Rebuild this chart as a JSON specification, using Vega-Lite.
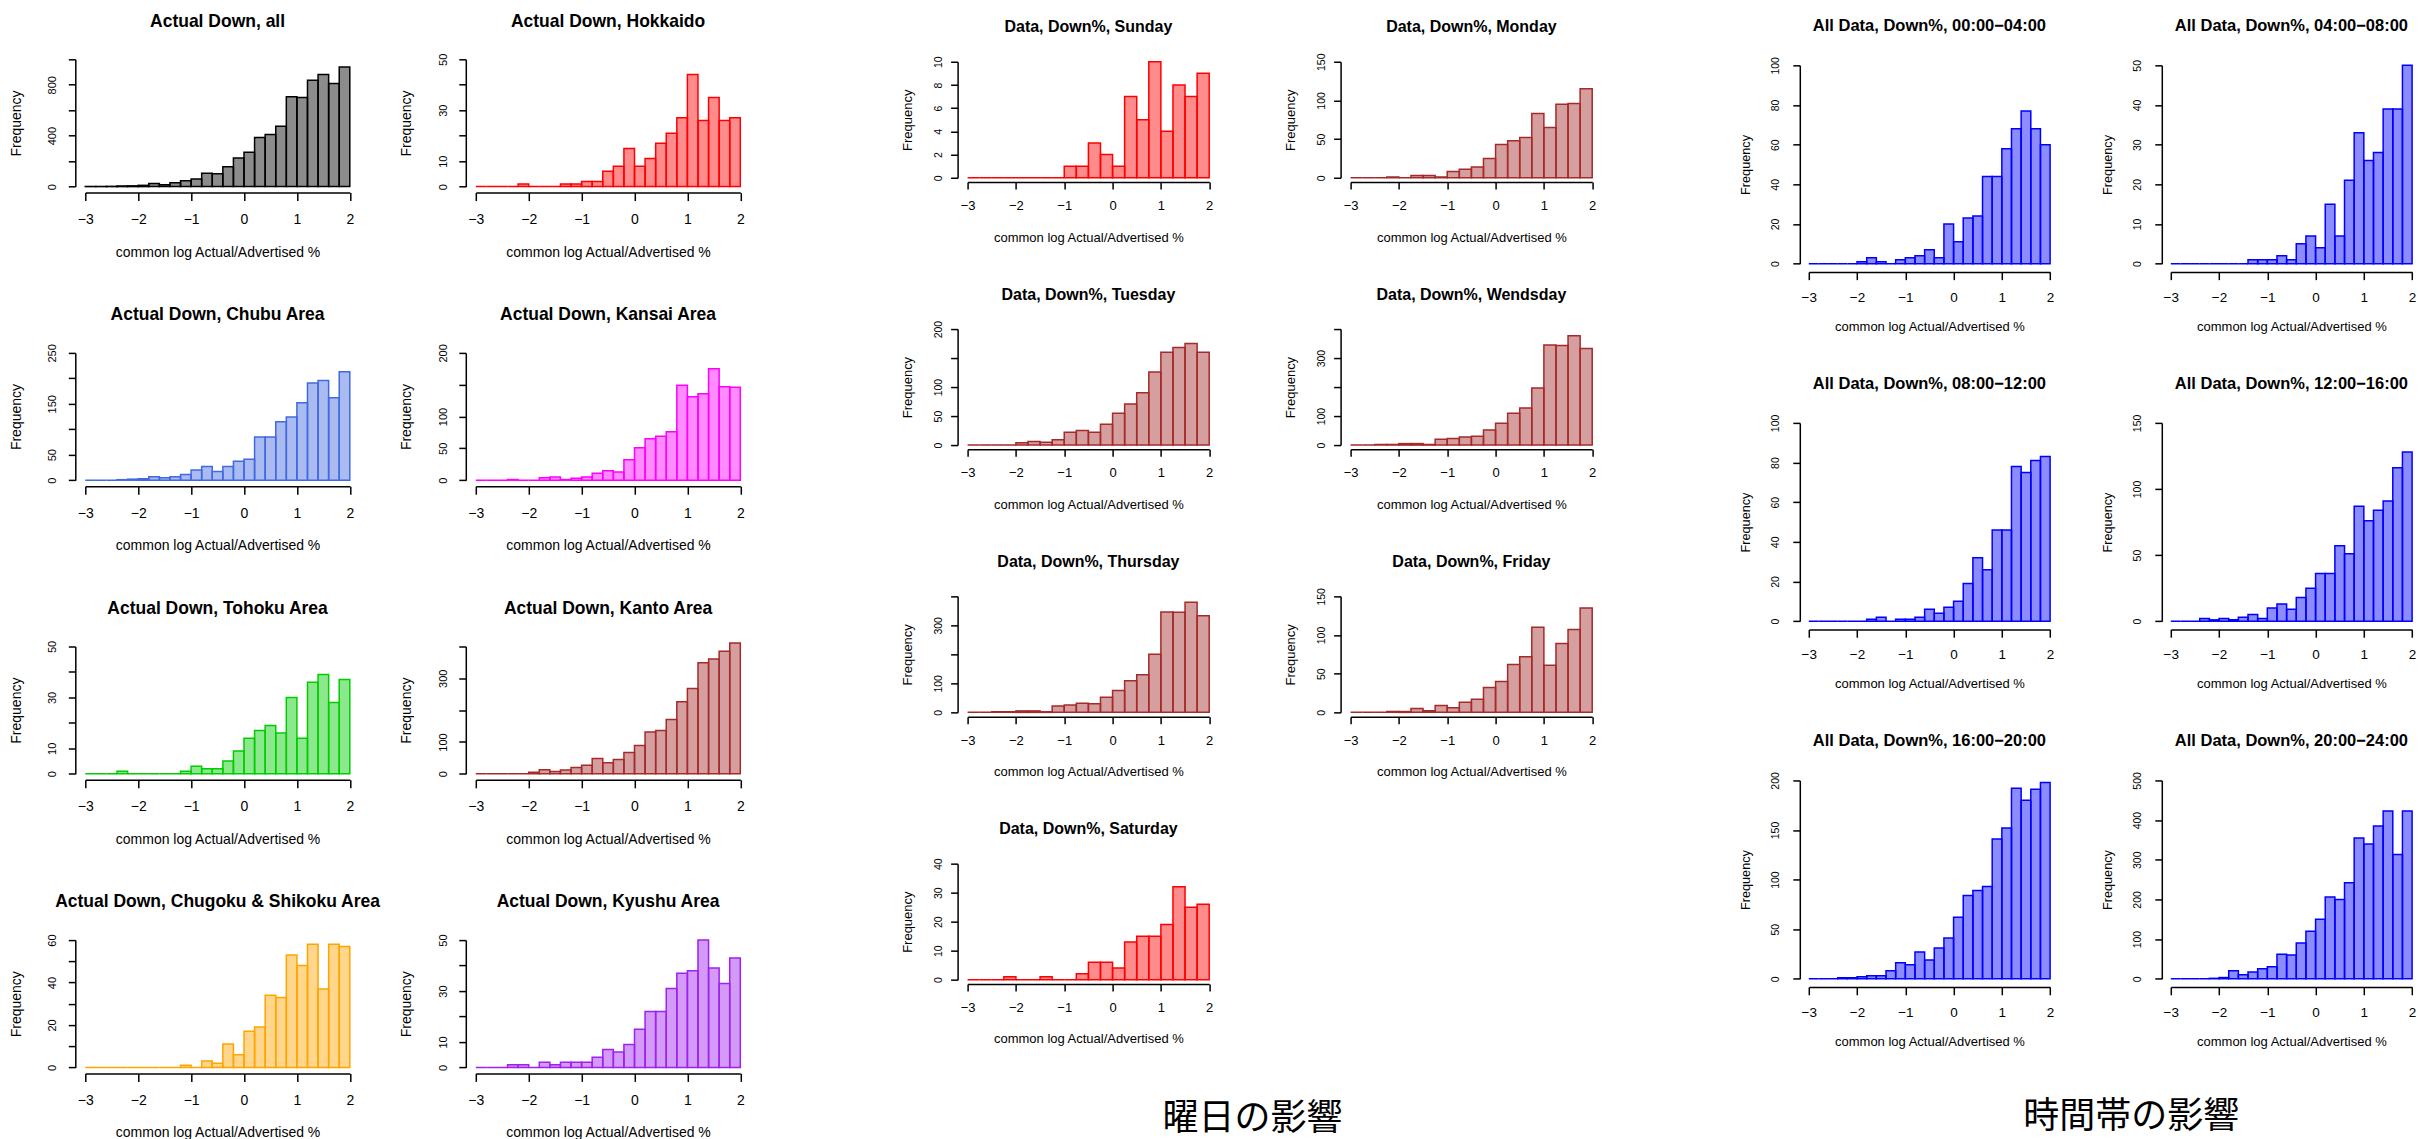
{
"$schema": "https://vega.github.io/schema/vega-lite/v6.json",
"background": "white",
"padding": {"left": 9.3, "top": 12.3, "right": 0, "bottom": 0},
"config": {
  "view": {"stroke": null},
  "font": "Liberation Sans",
  "bar": {"fillOpacity": 0.45, "strokeWidth": 1.5},
  "title": {"font": "Liberation Sans", "fontWeight": "bold", "color": "#000000", "anchor": "middle", "frame": "group"},
  "axis": {"grid": false, "domainColor": "#000000", "domainWidth": 1.5, "tickColor": "#000000", "tickWidth": 1.5, "labelColor": "#000000", "titleColor": "#000000", "labelFont": "Liberation Sans", "titleFont": "Liberation Sans", "titleFontWeight": "normal", "labelFlush": false, "labelOverlap": false, "titleBaseline": "middle"},
  "axisX": {"labelAngle": 0},
  "axisY": {"labelAngle": 270, "labelAlign": "center", "labelBaseline": "bottom", "titleAngle": 270, "titleAlign": "center"}
},
"datasets": {
  "all": [{"x0":-3,"x1":-2.8,"count":1},{"x0":-2.8,"x1":-2.6,"count":1},{"x0":-2.6,"x1":-2.4,"count":2},{"x0":-2.4,"x1":-2.2,"count":5},{"x0":-2.2,"x1":-2,"count":6},{"x0":-2,"x1":-1.8,"count":10},{"x0":-1.8,"x1":-1.6,"count":25},{"x0":-1.6,"x1":-1.4,"count":15},{"x0":-1.4,"x1":-1.2,"count":30},{"x0":-1.2,"x1":-1,"count":45},{"x0":-1,"x1":-0.8,"count":60},{"x0":-0.8,"x1":-0.6,"count":105},{"x0":-0.6,"x1":-0.4,"count":100},{"x0":-0.4,"x1":-0.2,"count":155},{"x0":-0.2,"x1":0,"count":225},{"x0":0,"x1":0.2,"count":270},{"x0":0.2,"x1":0.4,"count":385},{"x0":0.4,"x1":0.6,"count":410},{"x0":0.6,"x1":0.8,"count":475},{"x0":0.8,"x1":1,"count":705},{"x0":1,"x1":1.2,"count":700},{"x0":1.2,"x1":1.4,"count":835},{"x0":1.4,"x1":1.6,"count":880},{"x0":1.6,"x1":1.8,"count":810},{"x0":1.8,"x1":2,"count":940}],
  "hokkaido": [{"x0":-3,"x1":-2.8,"count":0},{"x0":-2.8,"x1":-2.6,"count":0},{"x0":-2.6,"x1":-2.4,"count":0},{"x0":-2.4,"x1":-2.2,"count":0},{"x0":-2.2,"x1":-2,"count":1},{"x0":-2,"x1":-1.8,"count":0},{"x0":-1.8,"x1":-1.6,"count":0},{"x0":-1.6,"x1":-1.4,"count":0},{"x0":-1.4,"x1":-1.2,"count":1},{"x0":-1.2,"x1":-1,"count":1},{"x0":-1,"x1":-0.8,"count":2},{"x0":-0.8,"x1":-0.6,"count":2},{"x0":-0.6,"x1":-0.4,"count":6},{"x0":-0.4,"x1":-0.2,"count":8},{"x0":-0.2,"x1":0,"count":15},{"x0":0,"x1":0.2,"count":8},{"x0":0.2,"x1":0.4,"count":11},{"x0":0.4,"x1":0.6,"count":17},{"x0":0.6,"x1":0.8,"count":21},{"x0":0.8,"x1":1,"count":27},{"x0":1,"x1":1.2,"count":44},{"x0":1.2,"x1":1.4,"count":26},{"x0":1.4,"x1":1.6,"count":35},{"x0":1.6,"x1":1.8,"count":26},{"x0":1.8,"x1":2,"count":27}],
  "chubu": [{"x0":-3,"x1":-2.8,"count":0},{"x0":-2.8,"x1":-2.6,"count":0},{"x0":-2.6,"x1":-2.4,"count":0},{"x0":-2.4,"x1":-2.2,"count":1},{"x0":-2.2,"x1":-2,"count":2},{"x0":-2,"x1":-1.8,"count":3},{"x0":-1.8,"x1":-1.6,"count":7},{"x0":-1.6,"x1":-1.4,"count":5},{"x0":-1.4,"x1":-1.2,"count":7},{"x0":-1.2,"x1":-1,"count":11},{"x0":-1,"x1":-0.8,"count":20},{"x0":-0.8,"x1":-0.6,"count":27},{"x0":-0.6,"x1":-0.4,"count":17},{"x0":-0.4,"x1":-0.2,"count":27},{"x0":-0.2,"x1":0,"count":37},{"x0":0,"x1":0.2,"count":41},{"x0":0.2,"x1":0.4,"count":85},{"x0":0.4,"x1":0.6,"count":85},{"x0":0.6,"x1":0.8,"count":115},{"x0":0.8,"x1":1,"count":124},{"x0":1,"x1":1.2,"count":152},{"x0":1.2,"x1":1.4,"count":191},{"x0":1.4,"x1":1.6,"count":196},{"x0":1.6,"x1":1.8,"count":162},{"x0":1.8,"x1":2,"count":213}],
  "kansai": [{"x0":-3,"x1":-2.8,"count":0},{"x0":-2.8,"x1":-2.6,"count":0},{"x0":-2.6,"x1":-2.4,"count":0},{"x0":-2.4,"x1":-2.2,"count":1},{"x0":-2.2,"x1":-2,"count":0},{"x0":-2,"x1":-1.8,"count":0},{"x0":-1.8,"x1":-1.6,"count":4},{"x0":-1.6,"x1":-1.4,"count":5},{"x0":-1.4,"x1":-1.2,"count":1},{"x0":-1.2,"x1":-1,"count":3},{"x0":-1,"x1":-0.8,"count":5},{"x0":-0.8,"x1":-0.6,"count":11},{"x0":-0.6,"x1":-0.4,"count":15},{"x0":-0.4,"x1":-0.2,"count":13},{"x0":-0.2,"x1":0,"count":32},{"x0":0,"x1":0.2,"count":51},{"x0":0.2,"x1":0.4,"count":65},{"x0":0.4,"x1":0.6,"count":69},{"x0":0.6,"x1":0.8,"count":76},{"x0":0.8,"x1":1,"count":149},{"x0":1,"x1":1.2,"count":131},{"x0":1.2,"x1":1.4,"count":136},{"x0":1.4,"x1":1.6,"count":175},{"x0":1.6,"x1":1.8,"count":147},{"x0":1.8,"x1":2,"count":146}],
  "tohoku": [{"x0":-3,"x1":-2.8,"count":0},{"x0":-2.8,"x1":-2.6,"count":0},{"x0":-2.6,"x1":-2.4,"count":0},{"x0":-2.4,"x1":-2.2,"count":1},{"x0":-2.2,"x1":-2,"count":0},{"x0":-2,"x1":-1.8,"count":0},{"x0":-1.8,"x1":-1.6,"count":0},{"x0":-1.6,"x1":-1.4,"count":0},{"x0":-1.4,"x1":-1.2,"count":0},{"x0":-1.2,"x1":-1,"count":1},{"x0":-1,"x1":-0.8,"count":3},{"x0":-0.8,"x1":-0.6,"count":2},{"x0":-0.6,"x1":-0.4,"count":2},{"x0":-0.4,"x1":-0.2,"count":5},{"x0":-0.2,"x1":0,"count":9},{"x0":0,"x1":0.2,"count":14},{"x0":0.2,"x1":0.4,"count":17},{"x0":0.4,"x1":0.6,"count":19},{"x0":0.6,"x1":0.8,"count":16},{"x0":0.8,"x1":1,"count":30},{"x0":1,"x1":1.2,"count":14},{"x0":1.2,"x1":1.4,"count":36},{"x0":1.4,"x1":1.6,"count":39},{"x0":1.6,"x1":1.8,"count":28},{"x0":1.8,"x1":2,"count":37}],
  "kanto": [{"x0":-3,"x1":-2.8,"count":0},{"x0":-2.8,"x1":-2.6,"count":0},{"x0":-2.6,"x1":-2.4,"count":0},{"x0":-2.4,"x1":-2.2,"count":0},{"x0":-2.2,"x1":-2,"count":0},{"x0":-2,"x1":-1.8,"count":5},{"x0":-1.8,"x1":-1.6,"count":13},{"x0":-1.6,"x1":-1.4,"count":7},{"x0":-1.4,"x1":-1.2,"count":12},{"x0":-1.2,"x1":-1,"count":20},{"x0":-1,"x1":-0.8,"count":27},{"x0":-0.8,"x1":-0.6,"count":48},{"x0":-0.6,"x1":-0.4,"count":35},{"x0":-0.4,"x1":-0.2,"count":45},{"x0":-0.2,"x1":0,"count":67},{"x0":0,"x1":0.2,"count":89},{"x0":0.2,"x1":0.4,"count":131},{"x0":0.4,"x1":0.6,"count":136},{"x0":0.6,"x1":0.8,"count":171},{"x0":0.8,"x1":1,"count":226},{"x0":1,"x1":1.2,"count":268},{"x0":1.2,"x1":1.4,"count":349},{"x0":1.4,"x1":1.6,"count":361},{"x0":1.6,"x1":1.8,"count":385},{"x0":1.8,"x1":2,"count":411}],
  "chugoku": [{"x0":-3,"x1":-2.8,"count":0},{"x0":-2.8,"x1":-2.6,"count":0},{"x0":-2.6,"x1":-2.4,"count":0},{"x0":-2.4,"x1":-2.2,"count":0},{"x0":-2.2,"x1":-2,"count":0},{"x0":-2,"x1":-1.8,"count":0},{"x0":-1.8,"x1":-1.6,"count":0},{"x0":-1.6,"x1":-1.4,"count":0},{"x0":-1.4,"x1":-1.2,"count":0},{"x0":-1.2,"x1":-1,"count":1},{"x0":-1,"x1":-0.8,"count":0},{"x0":-0.8,"x1":-0.6,"count":3},{"x0":-0.6,"x1":-0.4,"count":2},{"x0":-0.4,"x1":-0.2,"count":11},{"x0":-0.2,"x1":0,"count":6},{"x0":0,"x1":0.2,"count":17},{"x0":0.2,"x1":0.4,"count":19},{"x0":0.4,"x1":0.6,"count":34},{"x0":0.6,"x1":0.8,"count":33},{"x0":0.8,"x1":1,"count":53},{"x0":1,"x1":1.2,"count":48},{"x0":1.2,"x1":1.4,"count":58},{"x0":1.4,"x1":1.6,"count":37},{"x0":1.6,"x1":1.8,"count":58},{"x0":1.8,"x1":2,"count":57}],
  "kyushu": [{"x0":-3,"x1":-2.8,"count":0},{"x0":-2.8,"x1":-2.6,"count":0},{"x0":-2.6,"x1":-2.4,"count":0},{"x0":-2.4,"x1":-2.2,"count":1},{"x0":-2.2,"x1":-2,"count":1},{"x0":-2,"x1":-1.8,"count":0},{"x0":-1.8,"x1":-1.6,"count":2},{"x0":-1.6,"x1":-1.4,"count":1},{"x0":-1.4,"x1":-1.2,"count":2},{"x0":-1.2,"x1":-1,"count":2},{"x0":-1,"x1":-0.8,"count":2},{"x0":-0.8,"x1":-0.6,"count":4},{"x0":-0.6,"x1":-0.4,"count":7},{"x0":-0.4,"x1":-0.2,"count":6},{"x0":-0.2,"x1":0,"count":9},{"x0":0,"x1":0.2,"count":15},{"x0":0.2,"x1":0.4,"count":22},{"x0":0.4,"x1":0.6,"count":22},{"x0":0.6,"x1":0.8,"count":31},{"x0":0.8,"x1":1,"count":37},{"x0":1,"x1":1.2,"count":38},{"x0":1.2,"x1":1.4,"count":50},{"x0":1.4,"x1":1.6,"count":39},{"x0":1.6,"x1":1.8,"count":33},{"x0":1.8,"x1":2,"count":43}],
  "sun": [{"x0":-3,"x1":-2.75,"count":0},{"x0":-2.75,"x1":-2.5,"count":0},{"x0":-2.5,"x1":-2.25,"count":0},{"x0":-2.25,"x1":-2,"count":0},{"x0":-2,"x1":-1.75,"count":0},{"x0":-1.75,"x1":-1.5,"count":0},{"x0":-1.5,"x1":-1.25,"count":0},{"x0":-1.25,"x1":-1,"count":0},{"x0":-1,"x1":-0.75,"count":1},{"x0":-0.75,"x1":-0.5,"count":1},{"x0":-0.5,"x1":-0.25,"count":3},{"x0":-0.25,"x1":0,"count":2},{"x0":0,"x1":0.25,"count":1},{"x0":0.25,"x1":0.5,"count":7},{"x0":0.5,"x1":0.75,"count":5},{"x0":0.75,"x1":1,"count":10},{"x0":1,"x1":1.25,"count":4},{"x0":1.25,"x1":1.5,"count":8},{"x0":1.5,"x1":1.75,"count":7},{"x0":1.75,"x1":2,"count":9}],
  "mon": [{"x0":-3,"x1":-2.75,"count":0},{"x0":-2.75,"x1":-2.5,"count":0},{"x0":-2.5,"x1":-2.25,"count":0},{"x0":-2.25,"x1":-2,"count":1},{"x0":-2,"x1":-1.75,"count":0},{"x0":-1.75,"x1":-1.5,"count":3},{"x0":-1.5,"x1":-1.25,"count":3},{"x0":-1.25,"x1":-1,"count":1},{"x0":-1,"x1":-0.75,"count":8},{"x0":-0.75,"x1":-0.5,"count":11},{"x0":-0.5,"x1":-0.25,"count":14},{"x0":-0.25,"x1":0,"count":25},{"x0":0,"x1":0.25,"count":43},{"x0":0.25,"x1":0.5,"count":48},{"x0":0.5,"x1":0.75,"count":52},{"x0":0.75,"x1":1,"count":83},{"x0":1,"x1":1.25,"count":65},{"x0":1.25,"x1":1.5,"count":95},{"x0":1.5,"x1":1.75,"count":96},{"x0":1.75,"x1":2,"count":115}],
  "tue": [{"x0":-3,"x1":-2.75,"count":0},{"x0":-2.75,"x1":-2.5,"count":0},{"x0":-2.5,"x1":-2.25,"count":0},{"x0":-2.25,"x1":-2,"count":0},{"x0":-2,"x1":-1.75,"count":4},{"x0":-1.75,"x1":-1.5,"count":6},{"x0":-1.5,"x1":-1.25,"count":5},{"x0":-1.25,"x1":-1,"count":9},{"x0":-1,"x1":-0.75,"count":22},{"x0":-0.75,"x1":-0.5,"count":25},{"x0":-0.5,"x1":-0.25,"count":22},{"x0":-0.25,"x1":0,"count":36},{"x0":0,"x1":0.25,"count":55},{"x0":0.25,"x1":0.5,"count":71},{"x0":0.5,"x1":0.75,"count":90},{"x0":0.75,"x1":1,"count":126},{"x0":1,"x1":1.25,"count":160},{"x0":1.25,"x1":1.5,"count":168},{"x0":1.5,"x1":1.75,"count":175},{"x0":1.75,"x1":2,"count":160}],
  "wed": [{"x0":-3,"x1":-2.75,"count":0},{"x0":-2.75,"x1":-2.5,"count":0},{"x0":-2.5,"x1":-2.25,"count":2},{"x0":-2.25,"x1":-2,"count":2},{"x0":-2,"x1":-1.75,"count":5},{"x0":-1.75,"x1":-1.5,"count":5},{"x0":-1.5,"x1":-1.25,"count":2},{"x0":-1.25,"x1":-1,"count":20},{"x0":-1,"x1":-0.75,"count":23},{"x0":-0.75,"x1":-0.5,"count":28},{"x0":-0.5,"x1":-0.25,"count":30},{"x0":-0.25,"x1":0,"count":52},{"x0":0,"x1":0.25,"count":75},{"x0":0.25,"x1":0.5,"count":110},{"x0":0.5,"x1":0.75,"count":128},{"x0":0.75,"x1":1,"count":197},{"x0":1,"x1":1.25,"count":345},{"x0":1.25,"x1":1.5,"count":343},{"x0":1.5,"x1":1.75,"count":377},{"x0":1.75,"x1":2,"count":333}],
  "thu": [{"x0":-3,"x1":-2.75,"count":0},{"x0":-2.75,"x1":-2.5,"count":0},{"x0":-2.5,"x1":-2.25,"count":2},{"x0":-2.25,"x1":-2,"count":2},{"x0":-2,"x1":-1.75,"count":5},{"x0":-1.75,"x1":-1.5,"count":5},{"x0":-1.5,"x1":-1.25,"count":2},{"x0":-1.25,"x1":-1,"count":22},{"x0":-1,"x1":-0.75,"count":25},{"x0":-0.75,"x1":-0.5,"count":31},{"x0":-0.5,"x1":-0.25,"count":30},{"x0":-0.25,"x1":0,"count":52},{"x0":0,"x1":0.25,"count":75},{"x0":0.25,"x1":0.5,"count":109},{"x0":0.5,"x1":0.75,"count":130},{"x0":0.75,"x1":1,"count":200},{"x0":1,"x1":1.25,"count":346},{"x0":1.25,"x1":1.5,"count":345},{"x0":1.5,"x1":1.75,"count":380},{"x0":1.75,"x1":2,"count":333}],
  "fri": [{"x0":-3,"x1":-2.75,"count":0},{"x0":-2.75,"x1":-2.5,"count":0},{"x0":-2.5,"x1":-2.25,"count":0},{"x0":-2.25,"x1":-2,"count":1},{"x0":-2,"x1":-1.75,"count":1},{"x0":-1.75,"x1":-1.5,"count":5},{"x0":-1.5,"x1":-1.25,"count":2},{"x0":-1.25,"x1":-1,"count":9},{"x0":-1,"x1":-0.75,"count":6},{"x0":-0.75,"x1":-0.5,"count":13},{"x0":-0.5,"x1":-0.25,"count":17},{"x0":-0.25,"x1":0,"count":32},{"x0":0,"x1":0.25,"count":40},{"x0":0.25,"x1":0.5,"count":62},{"x0":0.5,"x1":0.75,"count":72},{"x0":0.75,"x1":1,"count":110},{"x0":1,"x1":1.25,"count":61},{"x0":1.25,"x1":1.5,"count":89},{"x0":1.5,"x1":1.75,"count":107},{"x0":1.75,"x1":2,"count":135}],
  "sat": [{"x0":-3,"x1":-2.75,"count":0},{"x0":-2.75,"x1":-2.5,"count":0},{"x0":-2.5,"x1":-2.25,"count":0},{"x0":-2.25,"x1":-2,"count":1},{"x0":-2,"x1":-1.75,"count":0},{"x0":-1.75,"x1":-1.5,"count":0},{"x0":-1.5,"x1":-1.25,"count":1},{"x0":-1.25,"x1":-1,"count":0},{"x0":-1,"x1":-0.75,"count":0},{"x0":-0.75,"x1":-0.5,"count":2},{"x0":-0.5,"x1":-0.25,"count":6},{"x0":-0.25,"x1":0,"count":6},{"x0":0,"x1":0.25,"count":4},{"x0":0.25,"x1":0.5,"count":13},{"x0":0.5,"x1":0.75,"count":15},{"x0":0.75,"x1":1,"count":15},{"x0":1,"x1":1.25,"count":19},{"x0":1.25,"x1":1.5,"count":32},{"x0":1.5,"x1":1.75,"count":25},{"x0":1.75,"x1":2,"count":26}],
  "t00": [{"x0":-3,"x1":-2.8,"count":0},{"x0":-2.8,"x1":-2.6,"count":0},{"x0":-2.6,"x1":-2.4,"count":0},{"x0":-2.4,"x1":-2.2,"count":0},{"x0":-2.2,"x1":-2,"count":0},{"x0":-2,"x1":-1.8,"count":1},{"x0":-1.8,"x1":-1.6,"count":3},{"x0":-1.6,"x1":-1.4,"count":1},{"x0":-1.4,"x1":-1.2,"count":0},{"x0":-1.2,"x1":-1,"count":2},{"x0":-1,"x1":-0.8,"count":3},{"x0":-0.8,"x1":-0.6,"count":4},{"x0":-0.6,"x1":-0.4,"count":7},{"x0":-0.4,"x1":-0.2,"count":3},{"x0":-0.2,"x1":0,"count":20},{"x0":0,"x1":0.2,"count":11},{"x0":0.2,"x1":0.4,"count":23},{"x0":0.4,"x1":0.6,"count":24},{"x0":0.6,"x1":0.8,"count":44},{"x0":0.8,"x1":1,"count":44},{"x0":1,"x1":1.2,"count":58},{"x0":1.2,"x1":1.4,"count":68},{"x0":1.4,"x1":1.6,"count":77},{"x0":1.6,"x1":1.8,"count":68},{"x0":1.8,"x1":2,"count":60}],
  "t04": [{"x0":-3,"x1":-2.8,"count":0},{"x0":-2.8,"x1":-2.6,"count":0},{"x0":-2.6,"x1":-2.4,"count":0},{"x0":-2.4,"x1":-2.2,"count":0},{"x0":-2.2,"x1":-2,"count":0},{"x0":-2,"x1":-1.8,"count":0},{"x0":-1.8,"x1":-1.6,"count":0},{"x0":-1.6,"x1":-1.4,"count":0},{"x0":-1.4,"x1":-1.2,"count":1},{"x0":-1.2,"x1":-1,"count":1},{"x0":-1,"x1":-0.8,"count":1},{"x0":-0.8,"x1":-0.6,"count":2},{"x0":-0.6,"x1":-0.4,"count":1},{"x0":-0.4,"x1":-0.2,"count":5},{"x0":-0.2,"x1":0,"count":7},{"x0":0,"x1":0.2,"count":4},{"x0":0.2,"x1":0.4,"count":15},{"x0":0.4,"x1":0.6,"count":7},{"x0":0.6,"x1":0.8,"count":21},{"x0":0.8,"x1":1,"count":33},{"x0":1,"x1":1.2,"count":26},{"x0":1.2,"x1":1.4,"count":28},{"x0":1.4,"x1":1.6,"count":39},{"x0":1.6,"x1":1.8,"count":39},{"x0":1.8,"x1":2,"count":50}],
  "t08": [{"x0":-3,"x1":-2.8,"count":0},{"x0":-2.8,"x1":-2.6,"count":0},{"x0":-2.6,"x1":-2.4,"count":0},{"x0":-2.4,"x1":-2.2,"count":0},{"x0":-2.2,"x1":-2,"count":0},{"x0":-2,"x1":-1.8,"count":0},{"x0":-1.8,"x1":-1.6,"count":1},{"x0":-1.6,"x1":-1.4,"count":2},{"x0":-1.4,"x1":-1.2,"count":0},{"x0":-1.2,"x1":-1,"count":1},{"x0":-1,"x1":-0.8,"count":1},{"x0":-0.8,"x1":-0.6,"count":2},{"x0":-0.6,"x1":-0.4,"count":6},{"x0":-0.4,"x1":-0.2,"count":4},{"x0":-0.2,"x1":0,"count":7},{"x0":0,"x1":0.2,"count":10},{"x0":0.2,"x1":0.4,"count":19},{"x0":0.4,"x1":0.6,"count":32},{"x0":0.6,"x1":0.8,"count":26},{"x0":0.8,"x1":1,"count":46},{"x0":1,"x1":1.2,"count":46},{"x0":1.2,"x1":1.4,"count":78},{"x0":1.4,"x1":1.6,"count":75},{"x0":1.6,"x1":1.8,"count":81},{"x0":1.8,"x1":2,"count":83}],
  "t12": [{"x0":-3,"x1":-2.8,"count":0},{"x0":-2.8,"x1":-2.6,"count":0},{"x0":-2.6,"x1":-2.4,"count":0},{"x0":-2.4,"x1":-2.2,"count":2},{"x0":-2.2,"x1":-2,"count":1},{"x0":-2,"x1":-1.8,"count":2},{"x0":-1.8,"x1":-1.6,"count":1},{"x0":-1.6,"x1":-1.4,"count":3},{"x0":-1.4,"x1":-1.2,"count":5},{"x0":-1.2,"x1":-1,"count":2},{"x0":-1,"x1":-0.8,"count":10},{"x0":-0.8,"x1":-0.6,"count":13},{"x0":-0.6,"x1":-0.4,"count":9},{"x0":-0.4,"x1":-0.2,"count":18},{"x0":-0.2,"x1":0,"count":25},{"x0":0,"x1":0.2,"count":36},{"x0":0.2,"x1":0.4,"count":36},{"x0":0.4,"x1":0.6,"count":57},{"x0":0.6,"x1":0.8,"count":51},{"x0":0.8,"x1":1,"count":87},{"x0":1,"x1":1.2,"count":76},{"x0":1.2,"x1":1.4,"count":84},{"x0":1.4,"x1":1.6,"count":91},{"x0":1.6,"x1":1.8,"count":116},{"x0":1.8,"x1":2,"count":128}],
  "t16": [{"x0":-3,"x1":-2.8,"count":0},{"x0":-2.8,"x1":-2.6,"count":0},{"x0":-2.6,"x1":-2.4,"count":0},{"x0":-2.4,"x1":-2.2,"count":1},{"x0":-2.2,"x1":-2,"count":1},{"x0":-2,"x1":-1.8,"count":2},{"x0":-1.8,"x1":-1.6,"count":3},{"x0":-1.6,"x1":-1.4,"count":3},{"x0":-1.4,"x1":-1.2,"count":8},{"x0":-1.2,"x1":-1,"count":16},{"x0":-1,"x1":-0.8,"count":14},{"x0":-0.8,"x1":-0.6,"count":27},{"x0":-0.6,"x1":-0.4,"count":19},{"x0":-0.4,"x1":-0.2,"count":31},{"x0":-0.2,"x1":0,"count":41},{"x0":0,"x1":0.2,"count":62},{"x0":0.2,"x1":0.4,"count":84},{"x0":0.4,"x1":0.6,"count":89},{"x0":0.6,"x1":0.8,"count":93},{"x0":0.8,"x1":1,"count":141},{"x0":1,"x1":1.2,"count":152},{"x0":1.2,"x1":1.4,"count":192},{"x0":1.4,"x1":1.6,"count":180},{"x0":1.6,"x1":1.8,"count":191},{"x0":1.8,"x1":2,"count":198}],
  "t20": [{"x0":-3,"x1":-2.8,"count":0},{"x0":-2.8,"x1":-2.6,"count":0},{"x0":-2.6,"x1":-2.4,"count":0},{"x0":-2.4,"x1":-2.2,"count":0},{"x0":-2.2,"x1":-2,"count":1},{"x0":-2,"x1":-1.8,"count":3},{"x0":-1.8,"x1":-1.6,"count":20},{"x0":-1.6,"x1":-1.4,"count":10},{"x0":-1.4,"x1":-1.2,"count":17},{"x0":-1.2,"x1":-1,"count":25},{"x0":-1,"x1":-0.8,"count":30},{"x0":-0.8,"x1":-0.6,"count":62},{"x0":-0.6,"x1":-0.4,"count":60},{"x0":-0.4,"x1":-0.2,"count":90},{"x0":-0.2,"x1":0,"count":120},{"x0":0,"x1":0.2,"count":150},{"x0":0.2,"x1":0.4,"count":206},{"x0":0.4,"x1":0.6,"count":200},{"x0":0.6,"x1":0.8,"count":242},{"x0":0.8,"x1":1,"count":355},{"x0":1,"x1":1.2,"count":340},{"x0":1.2,"x1":1.4,"count":385},{"x0":1.4,"x1":1.6,"count":423},{"x0":1.6,"x1":1.8,"count":313},{"x0":1.8,"x1":2,"count":423}]
},
"hconcat": [
  {
    "hconcat": [
      {"vconcat": [
        {"title": {"text": "Actual Down, all", "offset": 28.45, "fontSize": 17.5}, "width": 264.5, "height": 127.3, "data": {"name": "all"},
         "mark": {"type": "bar", "fill": "#000000", "stroke": "#000000"},
         "encoding": {"x": {"field": "x0", "type": "quantitative", "scale": {"domain": [-3, 2], "nice": false, "zero": false}, "axis": {"title": "common log Actual/Advertised %", "values": [-3,-2,-1,0,1,2], "offset": 6, "tickSize": 8, "labelPadding": 12, "labelFontSize": 14, "titleFontSize": 14, "titleY": 59.5}},
                      "x2": {"field": "x1"},
                      "y": {"field": "count", "type": "quantitative", "scale": {"domain": [0, 1000], "nice": false}, "axis": {"title": "Frequency", "values": [0,200,400,600,800,1000], "labelExpr": "indexof([0,400,800], datum.value) >= 0 ? datum.label : ''", "offset": 10, "tickSize": 7, "labelPadding": 10.5, "labelFontSize": 11, "titleFontSize": 14, "titleX": -59}},
                      "y2": {"datum": 0}}},
        {"title": {"text": "Actual Down, Chubu Area", "offset": 20, "fontSize": 17.5}, "width": 264.5, "height": 127.3, "data": {"name": "chubu"},
         "mark": {"type": "bar", "fill": "#4169E1", "stroke": "#4169E1"},
         "encoding": {"x": {"field": "x0", "type": "quantitative", "scale": {"domain": [-3, 2], "nice": false, "zero": false}, "axis": {"title": "common log Actual/Advertised %", "values": [-3,-2,-1,0,1,2], "offset": 6, "tickSize": 8, "labelPadding": 12, "labelFontSize": 14, "titleFontSize": 14, "titleY": 59.5}},
                      "x2": {"field": "x1"},
                      "y": {"field": "count", "type": "quantitative", "scale": {"domain": [0, 250], "nice": false}, "axis": {"title": "Frequency", "values": [0,50,100,150,200,250], "labelExpr": "indexof([0,50,150,250], datum.value) >= 0 ? datum.label : ''", "offset": 10, "tickSize": 7, "labelPadding": 10.5, "labelFontSize": 11, "titleFontSize": 14, "titleX": -59}},
                      "y2": {"datum": 0}}},
        {"title": {"text": "Actual Down, Tohoku Area", "offset": 23.1, "fontSize": 17.5}, "width": 264.5, "height": 127.3, "data": {"name": "tohoku"},
         "mark": {"type": "bar", "fill": "#00CD00", "stroke": "#00CD00"},
         "encoding": {"x": {"field": "x0", "type": "quantitative", "scale": {"domain": [-3, 2], "nice": false, "zero": false}, "axis": {"title": "common log Actual/Advertised %", "values": [-3,-2,-1,0,1,2], "offset": 6, "tickSize": 8, "labelPadding": 12, "labelFontSize": 14, "titleFontSize": 14, "titleY": 59.5}},
                      "x2": {"field": "x1"},
                      "y": {"field": "count", "type": "quantitative", "scale": {"domain": [0, 50], "nice": false}, "axis": {"title": "Frequency", "values": [0,10,20,30,40,50], "labelExpr": "indexof([0,10,30,50], datum.value) >= 0 ? datum.label : ''", "offset": 10, "tickSize": 7, "labelPadding": 10.5, "labelFontSize": 11, "titleFontSize": 14, "titleX": -59}},
                      "y2": {"datum": 0}}},
        {"title": {"text": "Actual Down, Chugoku & Shikoku Area", "offset": 23.1, "fontSize": 17.5}, "width": 264.5, "height": 127.3, "data": {"name": "chugoku"},
         "mark": {"type": "bar", "fill": "#FFA500", "stroke": "#FFA500"},
         "encoding": {"x": {"field": "x0", "type": "quantitative", "scale": {"domain": [-3, 2], "nice": false, "zero": false}, "axis": {"title": "common log Actual/Advertised %", "values": [-3,-2,-1,0,1,2], "offset": 6, "tickSize": 8, "labelPadding": 12, "labelFontSize": 14, "titleFontSize": 14, "titleY": 59.5}},
                      "x2": {"field": "x1"},
                      "y": {"field": "count", "type": "quantitative", "scale": {"domain": [0, 60], "nice": false}, "axis": {"title": "Frequency", "values": [0,10,20,30,40,50,60], "labelExpr": "indexof([0,20,40,60], datum.value) >= 0 ? datum.label : ''", "offset": 10, "tickSize": 7, "labelPadding": 10.5, "labelFontSize": 11, "titleFontSize": 14, "titleX": -59}},
                      "y2": {"datum": 0}}}
      ], "spacing": 165.6, "bounds": "flush"},
      {"vconcat": [
        {"title": {"text": "Actual Down, Hokkaido", "offset": 23.1, "fontSize": 17.5}, "width": 264.5, "height": 127.3, "data": {"name": "hokkaido"},
         "mark": {"type": "bar", "fill": "#FF0000", "stroke": "#FF0000"},
         "encoding": {"x": {"field": "x0", "type": "quantitative", "scale": {"domain": [-3, 2], "nice": false, "zero": false}, "axis": {"title": "common log Actual/Advertised %", "values": [-3,-2,-1,0,1,2], "offset": 6, "tickSize": 8, "labelPadding": 12, "labelFontSize": 14, "titleFontSize": 14, "titleY": 59.5}},
                      "x2": {"field": "x1"},
                      "y": {"field": "count", "type": "quantitative", "scale": {"domain": [0, 50], "nice": false}, "axis": {"title": "Frequency", "values": [0,10,20,30,40,50], "labelExpr": "indexof([0,10,30,50], datum.value) >= 0 ? datum.label : ''", "offset": 10, "tickSize": 7, "labelPadding": 10.5, "labelFontSize": 11, "titleFontSize": 14, "titleX": -59}},
                      "y2": {"datum": 0}}},
        {"title": {"text": "Actual Down, Kansai Area", "offset": 20, "fontSize": 17.5}, "width": 264.5, "height": 127.3, "data": {"name": "kansai"},
         "mark": {"type": "bar", "fill": "#FF00FF", "stroke": "#FF00FF"},
         "encoding": {"x": {"field": "x0", "type": "quantitative", "scale": {"domain": [-3, 2], "nice": false, "zero": false}, "axis": {"title": "common log Actual/Advertised %", "values": [-3,-2,-1,0,1,2], "offset": 6, "tickSize": 8, "labelPadding": 12, "labelFontSize": 14, "titleFontSize": 14, "titleY": 59.5}},
                      "x2": {"field": "x1"},
                      "y": {"field": "count", "type": "quantitative", "scale": {"domain": [0, 200], "nice": false}, "axis": {"title": "Frequency", "values": [0,50,100,150,200], "labelExpr": "indexof([0,50,100,200], datum.value) >= 0 ? datum.label : ''", "offset": 10, "tickSize": 7, "labelPadding": 10.5, "labelFontSize": 11, "titleFontSize": 14, "titleX": -59}},
                      "y2": {"datum": 0}}},
        {"title": {"text": "Actual Down, Kanto Area", "offset": 24.95, "fontSize": 17.5}, "width": 264.5, "height": 127.3, "data": {"name": "kanto"},
         "mark": {"type": "bar", "fill": "#A52A2A", "stroke": "#A52A2A"},
         "encoding": {"x": {"field": "x0", "type": "quantitative", "scale": {"domain": [-3, 2], "nice": false, "zero": false}, "axis": {"title": "common log Actual/Advertised %", "values": [-3,-2,-1,0,1,2], "offset": 6, "tickSize": 8, "labelPadding": 12, "labelFontSize": 14, "titleFontSize": 14, "titleY": 59.5}},
                      "x2": {"field": "x1"},
                      "y": {"field": "count", "type": "quantitative", "scale": {"domain": [0, 400], "nice": false}, "axis": {"title": "Frequency", "values": [0,100,200,300,400], "labelExpr": "indexof([0,100,300], datum.value) >= 0 ? datum.label : ''", "offset": 10, "tickSize": 7, "labelPadding": 10.5, "labelFontSize": 11, "titleFontSize": 14, "titleX": -59}},
                      "y2": {"datum": 0}}},
        {"title": {"text": "Actual Down, Kyushu Area", "offset": 23.1, "fontSize": 17.5}, "width": 264.5, "height": 127.3, "data": {"name": "kyushu"},
         "mark": {"type": "bar", "fill": "#A020F0", "stroke": "#A020F0"},
         "encoding": {"x": {"field": "x0", "type": "quantitative", "scale": {"domain": [-3, 2], "nice": false, "zero": false}, "axis": {"title": "common log Actual/Advertised %", "values": [-3,-2,-1,0,1,2], "offset": 6, "tickSize": 8, "labelPadding": 12, "labelFontSize": 14, "titleFontSize": 14, "titleY": 59.5}},
                      "x2": {"field": "x1"},
                      "y": {"field": "count", "type": "quantitative", "scale": {"domain": [0, 50], "nice": false}, "axis": {"title": "Frequency", "values": [0,10,20,30,40,50], "labelExpr": "indexof([0,10,30,50], datum.value) >= 0 ? datum.label : ''", "offset": 10, "tickSize": 7, "labelPadding": 10.5, "labelFontSize": 11, "titleFontSize": 14, "titleX": -59}},
                      "y2": {"datum": 0}}}
      ], "spacing": 165.6, "bounds": "flush"}
    ],
    "spacing": 18.5
  },
  {
    "hconcat": [
      {
        "title": {"text": "曜日の影響", "orient": "bottom", "frame": "bounds", "font": "Noto Sans CJK JP", "fontWeight": "normal", "fontSize": 36, "offset": 56.4, "dx": 3.7},
        "vconcat": [
          {"data": {"values": []}, "mark": "point", "width": 1, "height": 1, "view": {"fill": "#ffffff", "stroke": null}},
          {
            "hconcat": [
              {"vconcat": [
                {"title": {"text": "Data, Down%, Sunday", "offset": 20.7, "fontSize": 16}, "width": 241.6, "height": 116, "data": {"name": "sun"},
                 "mark": {"type": "bar", "fill": "#FF0000", "stroke": "#FF0000"},
                 "encoding": {"x": {"field": "x0", "type": "quantitative", "scale": {"domain": [-3, 2], "nice": false, "zero": false}, "axis": {"title": "common log Actual/Advertised %", "values": [-3,-2,-1,0,1,2], "offset": 4.3, "tickSize": 7, "labelPadding": 10.4, "labelFontSize": 13, "titleFontSize": 13, "titleY": 55}},
                              "x2": {"field": "x1"},
                              "y": {"field": "count", "type": "quantitative", "scale": {"domain": [0, 10], "nice": false}, "axis": {"title": "Frequency", "values": [0,2,4,6,8,10], "offset": 10, "tickSize": 7, "labelPadding": 7, "labelFontSize": 10.5, "titleFontSize": 13, "titleX": -50}},
                              "y2": {"datum": 0}}},
                {"title": {"text": "Data, Down%, Tuesday", "offset": 17.7, "fontSize": 16}, "width": 241.6, "height": 116, "data": {"name": "tue"},
                 "mark": {"type": "bar", "fill": "#A52A2A", "stroke": "#A52A2A"},
                 "encoding": {"x": {"field": "x0", "type": "quantitative", "scale": {"domain": [-3, 2], "nice": false, "zero": false}, "axis": {"title": "common log Actual/Advertised %", "values": [-3,-2,-1,0,1,2], "offset": 4.3, "tickSize": 7, "labelPadding": 10.4, "labelFontSize": 13, "titleFontSize": 13, "titleY": 55}},
                              "x2": {"field": "x1"},
                              "y": {"field": "count", "type": "quantitative", "scale": {"domain": [0, 200], "nice": false}, "axis": {"title": "Frequency", "values": [0,50,100,150,200], "labelExpr": "indexof([0,50,100,200], datum.value) >= 0 ? datum.label : ''", "offset": 10, "tickSize": 7, "labelPadding": 7, "labelFontSize": 10.5, "titleFontSize": 13, "titleX": -50}},
                              "y2": {"datum": 0}}},
                {"title": {"text": "Data, Down%, Thursday", "offset": 25.8, "fontSize": 16}, "width": 241.6, "height": 116, "data": {"name": "thu"},
                 "mark": {"type": "bar", "fill": "#A52A2A", "stroke": "#A52A2A"},
                 "encoding": {"x": {"field": "x0", "type": "quantitative", "scale": {"domain": [-3, 2], "nice": false, "zero": false}, "axis": {"title": "common log Actual/Advertised %", "values": [-3,-2,-1,0,1,2], "offset": 4.3, "tickSize": 7, "labelPadding": 10.4, "labelFontSize": 13, "titleFontSize": 13, "titleY": 55}},
                              "x2": {"field": "x1"},
                              "y": {"field": "count", "type": "quantitative", "scale": {"domain": [0, 400], "nice": false}, "axis": {"title": "Frequency", "values": [0,100,200,300,400], "labelExpr": "indexof([0,100,300], datum.value) >= 0 ? datum.label : ''", "offset": 10, "tickSize": 7, "labelPadding": 7, "labelFontSize": 10.5, "titleFontSize": 13, "titleX": -50}},
                              "y2": {"datum": 0}}},
                {"title": {"text": "Data, Down%, Saturday", "offset": 20.7, "fontSize": 16}, "width": 241.6, "height": 116, "data": {"name": "sat"},
                 "mark": {"type": "bar", "fill": "#FF0000", "stroke": "#FF0000"},
                 "encoding": {"x": {"field": "x0", "type": "quantitative", "scale": {"domain": [-3, 2], "nice": false, "zero": false}, "axis": {"title": "common log Actual/Advertised %", "values": [-3,-2,-1,0,1,2], "offset": 4.3, "tickSize": 7, "labelPadding": 10.4, "labelFontSize": 13, "titleFontSize": 13, "titleY": 55}},
                              "x2": {"field": "x1"},
                              "y": {"field": "count", "type": "quantitative", "scale": {"domain": [0, 40], "nice": false}, "axis": {"title": "Frequency", "values": [0,10,20,30,40], "offset": 10, "tickSize": 7, "labelPadding": 7, "labelFontSize": 10.5, "titleFontSize": 13, "titleX": -50}},
                              "y2": {"datum": 0}}}
              ], "spacing": 151.3, "bounds": "flush"},
              {"vconcat": [
                {"title": {"text": "Data, Down%, Monday", "offset": 17.7, "fontSize": 16}, "width": 241.6, "height": 116, "data": {"name": "mon"},
                 "mark": {"type": "bar", "fill": "#A52A2A", "stroke": "#A52A2A"},
                 "encoding": {"x": {"field": "x0", "type": "quantitative", "scale": {"domain": [-3, 2], "nice": false, "zero": false}, "axis": {"title": "common log Actual/Advertised %", "values": [-3,-2,-1,0,1,2], "offset": 4.3, "tickSize": 7, "labelPadding": 10.4, "labelFontSize": 13, "titleFontSize": 13, "titleY": 55}},
                              "x2": {"field": "x1"},
                              "y": {"field": "count", "type": "quantitative", "scale": {"domain": [0, 150], "nice": false}, "axis": {"title": "Frequency", "values": [0,50,100,150], "offset": 10, "tickSize": 7, "labelPadding": 7, "labelFontSize": 10.5, "titleFontSize": 13, "titleX": -50}},
                              "y2": {"datum": 0}}},
                {"title": {"text": "Data, Down%, Wendsday", "offset": 25.8, "fontSize": 16}, "width": 241.6, "height": 116, "data": {"name": "wed"},
                 "mark": {"type": "bar", "fill": "#A52A2A", "stroke": "#A52A2A"},
                 "encoding": {"x": {"field": "x0", "type": "quantitative", "scale": {"domain": [-3, 2], "nice": false, "zero": false}, "axis": {"title": "common log Actual/Advertised %", "values": [-3,-2,-1,0,1,2], "offset": 4.3, "tickSize": 7, "labelPadding": 10.4, "labelFontSize": 13, "titleFontSize": 13, "titleY": 55}},
                              "x2": {"field": "x1"},
                              "y": {"field": "count", "type": "quantitative", "scale": {"domain": [0, 400], "nice": false}, "axis": {"title": "Frequency", "values": [0,100,200,300,400], "labelExpr": "indexof([0,100,300], datum.value) >= 0 ? datum.label : ''", "offset": 10, "tickSize": 7, "labelPadding": 7, "labelFontSize": 10.5, "titleFontSize": 13, "titleX": -50}},
                              "y2": {"datum": 0}}},
                {"title": {"text": "Data, Down%, Friday", "offset": 17.7, "fontSize": 16}, "width": 241.6, "height": 116, "data": {"name": "fri"},
                 "mark": {"type": "bar", "fill": "#A52A2A", "stroke": "#A52A2A"},
                 "encoding": {"x": {"field": "x0", "type": "quantitative", "scale": {"domain": [-3, 2], "nice": false, "zero": false}, "axis": {"title": "common log Actual/Advertised %", "values": [-3,-2,-1,0,1,2], "offset": 4.3, "tickSize": 7, "labelPadding": 10.4, "labelFontSize": 13, "titleFontSize": 13, "titleY": 55}},
                              "x2": {"field": "x1"},
                              "y": {"field": "count", "type": "quantitative", "scale": {"domain": [0, 150], "nice": false}, "axis": {"title": "Frequency", "values": [0,50,100,150], "offset": 10, "tickSize": 7, "labelPadding": 7, "labelFontSize": 10.5, "titleFontSize": 13, "titleX": -50}},
                              "y2": {"datum": 0}}}
              ], "spacing": 151.3, "bounds": "flush"}
            ],
            "spacing": 71
          }
        ],
        "spacing": -41.54
      },
      {
        "title": {"text": "時間帯の影響", "orient": "bottom", "frame": "bounds", "font": "Noto Sans CJK JP", "fontWeight": "normal", "fontSize": 36, "offset": 52.1, "dx": 53.6},
        "vconcat": [
          {"data": {"values": []}, "mark": "point", "width": 1, "height": 1, "view": {"fill": "#ffffff", "stroke": null}},
          {
            "hconcat": [
              {"vconcat": [
                {"title": {"text": "All Data, Down%, 00:00−04:00", "offset": 21.7, "fontSize": 16.5}, "width": 241.3, "height": 198.3, "data": {"name": "t00"},
                 "mark": {"type": "bar", "fill": "#0000FF", "stroke": "#0000FF"},
                 "encoding": {"x": {"field": "x0", "type": "quantitative", "scale": {"domain": [-3, 2], "nice": false, "zero": false}, "axis": {"title": "common log Actual/Advertised %", "values": [-3,-2,-1,0,1,2], "offset": 8.3, "tickSize": 7.7, "labelPadding": 10.8, "labelFontSize": 13.5, "titleFontSize": 13, "titleY": 54.3}},
                              "x2": {"field": "x1"},
                              "y": {"field": "count", "type": "quantitative", "scale": {"domain": [0, 100], "nice": false}, "axis": {"title": "Frequency", "values": [0,20,40,60,80,100], "offset": 9, "tickSize": 7, "labelPadding": 11.8, "labelFontSize": 10.5, "titleFontSize": 12.7, "titleX": -54.4}},
                              "y2": {"datum": 0}}},
                {"title": {"text": "All Data, Down%, 08:00−12:00", "offset": 21.7, "fontSize": 16.5}, "width": 241.3, "height": 198.3, "data": {"name": "t08"},
                 "mark": {"type": "bar", "fill": "#0000FF", "stroke": "#0000FF"},
                 "encoding": {"x": {"field": "x0", "type": "quantitative", "scale": {"domain": [-3, 2], "nice": false, "zero": false}, "axis": {"title": "common log Actual/Advertised %", "values": [-3,-2,-1,0,1,2], "offset": 8.3, "tickSize": 7.7, "labelPadding": 10.8, "labelFontSize": 13.5, "titleFontSize": 13, "titleY": 54.3}},
                              "x2": {"field": "x1"},
                              "y": {"field": "count", "type": "quantitative", "scale": {"domain": [0, 100], "nice": false}, "axis": {"title": "Frequency", "values": [0,20,40,60,80,100], "offset": 9, "tickSize": 7, "labelPadding": 11.8, "labelFontSize": 10.5, "titleFontSize": 12.7, "titleX": -54.4}},
                              "y2": {"datum": 0}}},
                {"title": {"text": "All Data, Down%, 16:00−20:00", "offset": 21.7, "fontSize": 16.5}, "width": 241.3, "height": 198.3, "data": {"name": "t16"},
                 "mark": {"type": "bar", "fill": "#0000FF", "stroke": "#0000FF"},
                 "encoding": {"x": {"field": "x0", "type": "quantitative", "scale": {"domain": [-3, 2], "nice": false, "zero": false}, "axis": {"title": "common log Actual/Advertised %", "values": [-3,-2,-1,0,1,2], "offset": 8.3, "tickSize": 7.7, "labelPadding": 10.8, "labelFontSize": 13.5, "titleFontSize": 13, "titleY": 54.3}},
                              "x2": {"field": "x1"},
                              "y": {"field": "count", "type": "quantitative", "scale": {"domain": [0, 200], "nice": false}, "axis": {"title": "Frequency", "values": [0,50,100,150,200], "offset": 9, "tickSize": 7, "labelPadding": 11.8, "labelFontSize": 10.5, "titleFontSize": 12.7, "titleX": -54.4}},
                              "y2": {"datum": 0}}}
              ], "spacing": 158.55, "bounds": "flush"},
              {"vconcat": [
                {"title": {"text": "All Data, Down%, 04:00−08:00", "offset": 24.7, "fontSize": 16.5}, "width": 241.3, "height": 198.3, "data": {"name": "t04"},
                 "mark": {"type": "bar", "fill": "#0000FF", "stroke": "#0000FF"},
                 "encoding": {"x": {"field": "x0", "type": "quantitative", "scale": {"domain": [-3, 2], "nice": false, "zero": false}, "axis": {"title": "common log Actual/Advertised %", "values": [-3,-2,-1,0,1,2], "offset": 8.3, "tickSize": 7.7, "labelPadding": 10.8, "labelFontSize": 13.5, "titleFontSize": 13, "titleY": 54.3}},
                              "x2": {"field": "x1"},
                              "y": {"field": "count", "type": "quantitative", "scale": {"domain": [0, 50], "nice": false}, "axis": {"title": "Frequency", "values": [0,10,20,30,40,50], "offset": 9, "tickSize": 7, "labelPadding": 11.8, "labelFontSize": 10.5, "titleFontSize": 12.7, "titleX": -54.4}},
                              "y2": {"datum": 0}}},
                {"title": {"text": "All Data, Down%, 12:00−16:00", "offset": 21.7, "fontSize": 16.5}, "width": 241.3, "height": 198.3, "data": {"name": "t12"},
                 "mark": {"type": "bar", "fill": "#0000FF", "stroke": "#0000FF"},
                 "encoding": {"x": {"field": "x0", "type": "quantitative", "scale": {"domain": [-3, 2], "nice": false, "zero": false}, "axis": {"title": "common log Actual/Advertised %", "values": [-3,-2,-1,0,1,2], "offset": 8.3, "tickSize": 7.7, "labelPadding": 10.8, "labelFontSize": 13.5, "titleFontSize": 13, "titleY": 54.3}},
                              "x2": {"field": "x1"},
                              "y": {"field": "count", "type": "quantitative", "scale": {"domain": [0, 150], "nice": false}, "axis": {"title": "Frequency", "values": [0,50,100,150], "offset": 9, "tickSize": 7, "labelPadding": 11.8, "labelFontSize": 10.5, "titleFontSize": 12.7, "titleX": -54.4}},
                              "y2": {"datum": 0}}},
                {"title": {"text": "All Data, Down%, 20:00−24:00", "offset": 21.7, "fontSize": 16.5}, "width": 241.3, "height": 198.3, "data": {"name": "t20"},
                 "mark": {"type": "bar", "fill": "#0000FF", "stroke": "#0000FF"},
                 "encoding": {"x": {"field": "x0", "type": "quantitative", "scale": {"domain": [-3, 2], "nice": false, "zero": false}, "axis": {"title": "common log Actual/Advertised %", "values": [-3,-2,-1,0,1,2], "offset": 8.3, "tickSize": 7.7, "labelPadding": 10.8, "labelFontSize": 13.5, "titleFontSize": 13, "titleY": 54.3}},
                              "x2": {"field": "x1"},
                              "y": {"field": "count", "type": "quantitative", "scale": {"domain": [0, 500], "nice": false}, "axis": {"title": "Frequency", "values": [0,100,200,300,400,500], "offset": 9, "tickSize": 7, "labelPadding": 11.8, "labelFontSize": 10.5, "titleFontSize": 12.7, "titleX": -54.4}},
                              "y2": {"datum": 0}}}
              ], "spacing": 158.55, "bounds": "flush"}
            ],
            "spacing": 46
          }
        ],
        "spacing": -42.96
      }
    ],
    "spacing": 142.2
  }
],
"spacing": 157.3
}
